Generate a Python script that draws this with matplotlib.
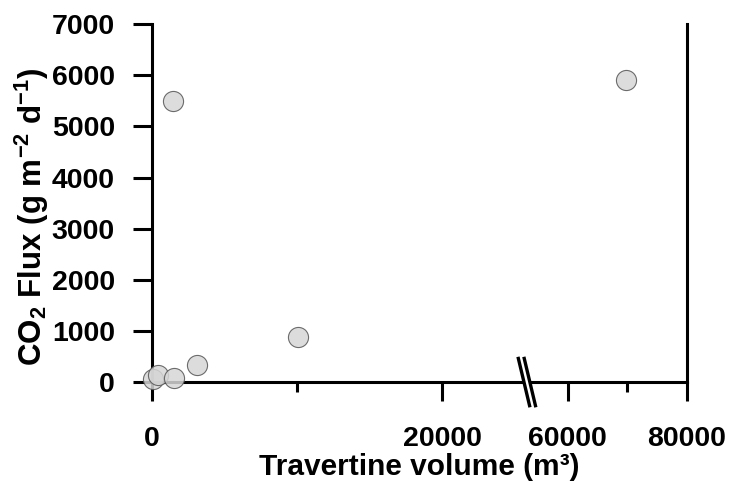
import numpy as np
import matplotlib
matplotlib.use("Agg")
import matplotlib.pyplot as plt
from matplotlib.lines import Line2D
from matplotlib.patches import Polygon

plt.rcParams['font.family'] = ['Liberation Sans', 'DejaVu Sans']
plt.rcParams['font.weight'] = 'bold'
plt.rcParams['mathtext.fontset'] = 'custom'
plt.rcParams['mathtext.rm'] = 'Liberation Sans:bold'
plt.rcParams['mathtext.bf'] = 'Liberation Sans:bold'
plt.rcParams['mathtext.it'] = 'Liberation Sans:bold'
plt.rcParams['mathtext.default'] = 'bf'

# data
travertine_volume = [100, 450, 1550, 3150, 10100, 1500, 69800]
co2_flux = [50, 140, 70, 340, 880, 5500, 5900]

x_ticks = [0, 20000, 60000, 80000]
x_tick_labels = ['0', '20000', '60000', '80000']
x_minor = [10000, 70000]
y_ticks = [0, 1000, 2000, 3000, 4000, 5000, 6000, 7000]

# broken axis via piecewise-linear scale
B1, B2, K = 25850.0, 53150.0, 0.41

def fwd(x):
    x = np.asarray(x, dtype=float)
    return np.where(x <= B1, x, np.where(x >= B2, B1 + (x - B2) * K, B1))

def inv(u):
    u = np.asarray(u, dtype=float)
    return np.where(u <= B1, u, B2 + (u - B1) / K)

fig = plt.figure(figsize=(7.29, 4.83), dpi=100)
ax = fig.add_axes([0.208, 0.209, 0.734, 0.741])
ax.set_xscale('function', functions=(fwd, inv))

ax.scatter(travertine_volume, co2_flux, s=210, facecolor='#d6d6d6',
           edgecolor='#555555', linewidth=0.8, alpha=0.85, zorder=3,
           clip_on=False)

ax.set_xlim(0, 80000)
ax.set_ylim(0, 7000)
ax.set_xticks(x_ticks)
ax.set_xticklabels(x_tick_labels)
ax.set_xticks(x_minor, minor=True)
ax.set_yticks(y_ticks)

for s in ['left', 'bottom', 'right']:
    ax.spines[s].set_linewidth(2.2)
ax.spines['top'].set_visible(False)

ax.tick_params(axis='both', which='major', direction='out', length=13.5,
               width=2.2, labelsize=20.5)
ax.tick_params(axis='y', which='major', pad=13)
ax.tick_params(axis='x', which='major', pad=18)
ax.tick_params(axis='x', which='minor', direction='out', length=7, width=2.2)
ax.tick_params(axis='y', which='minor', length=0)
for lab in ax.get_xticklabels() + ax.get_yticklabels():
    lab.set_fontweight('bold')

ax.set_xlabel('Travertine volume (m³)', fontsize=21.5, fontweight='bold',
              labelpad=1)
ax.set_ylabel(r'CO$_{2}$ Flux (g m$^{-2}$ d$^{-1}$)', fontsize=22.5,
              fontweight='bold')
ax.yaxis.set_label_coords(-0.188, 0.462)

# break marks
xb = float((fwd(B1) - fwd(0)) / (fwd(80000) - fwd(0)))
h = 0.066
dx = 0.0125
gap = 0.011
poly = Polygon([[xb - gap / 2 - dx + 0.002, -h], [xb + gap / 2 - dx + 0.002, -h],
                [xb + gap / 2 + dx - 0.002, h], [xb - gap / 2 + dx - 0.002, h]],
               closed=True, transform=ax.transAxes, facecolor='white',
               edgecolor='none', clip_on=False, zorder=4)
ax.add_patch(poly)
for off in (-gap / 2, gap / 2):
    ax.add_line(Line2D([xb + off - dx + 0.002, xb + off + dx - 0.002],
                       [h, -h], transform=ax.transAxes, color='black',
                       linewidth=2.4, clip_on=False, zorder=5))

fig.savefig('out.png', dpi=100)
